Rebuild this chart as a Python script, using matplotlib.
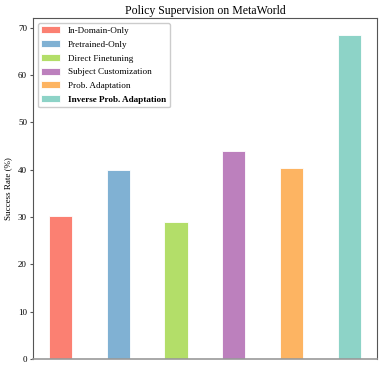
import numpy as np
import matplotlib
matplotlib.use('Agg')
import matplotlib.pyplot as plt

methods = ['In-Domain-Only', 'Pretrained-Only', 'Direct Finetuning',
           'Subject Customization', 'Prob. Adaptation', 'Inverse Prob. Adaptation']
success = [30.2, 39.9, 29.0, 44.0, 40.3, 68.4]
colors = ['#fb8072', '#80b1d3', '#b3de69', '#bc80bd', '#fdb462', '#8dd3c7']

plt.rcParams['font.family'] = ['Liberation Serif', 'DejaVu Serif']

fig, ax = plt.subplots(figsize=(3.82, 3.71), dpi=100)
x = np.arange(len(methods))
bars = ax.bar(x, success, width=0.4, color=colors, edgecolor='#ffffff', linewidth=0.6,
              label=methods)

ax.set_ylim(0, 72)
ax.set_xticks([])
ax.set_ylabel('Success Rate (%)', fontsize=6.5, labelpad=4)
ax.set_title('Policy Supervision on MetaWorld', fontsize=8.5, pad=3)
ax.tick_params(axis='y', labelsize=6.5, length=2.5, width=0.8, color='#555555', pad=2)
for s in ['left', 'right', 'top']:
    ax.spines[s].set_color('#555555')
ax.spines['bottom'].set_color('#999999')
ax.spines['bottom'].set_linewidth(1.2)

leg = ax.legend(loc='upper left', fontsize=6.6, framealpha=1, edgecolor='#cccccc',
                handlelength=2.0, handleheight=0.8, handletextpad=0.9,
                labelspacing=0.55)
leg.get_texts()[-1].set_fontweight('bold')

fig.subplots_adjust(left=0.087, right=0.986, top=0.951, bottom=0.032)
fig.savefig('out.png', dpi=100)
